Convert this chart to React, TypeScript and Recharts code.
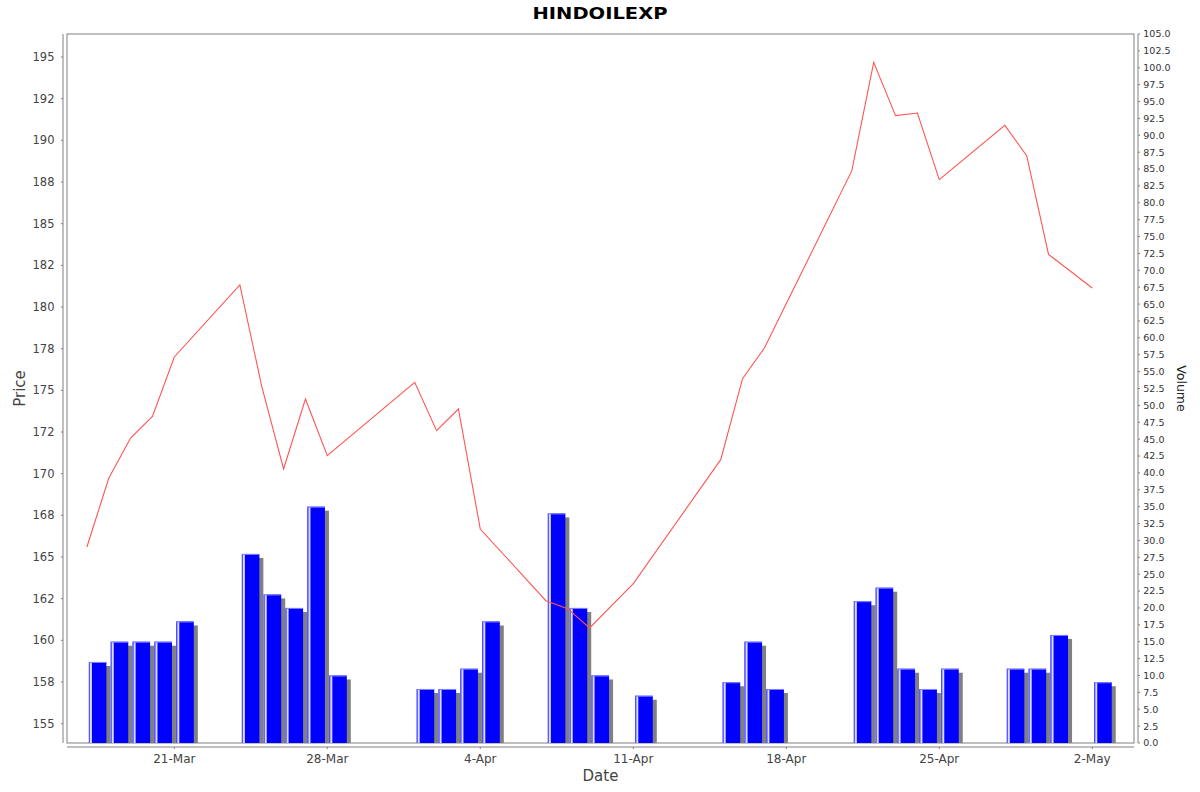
import React from 'react';
import { ComposedChart, Bar, Line, XAxis, YAxis, ReferenceArea } from 'recharts';

// ---- data ----
const title = 'HINDOILEXP';
const dates = [
  '2025-03-17', '2025-03-18', '2025-03-19', '2025-03-20', '2025-03-21',
  '2025-03-24', '2025-03-25', '2025-03-26', '2025-03-27', '2025-03-28',
  '2025-04-01', '2025-04-02', '2025-04-03', '2025-04-04',
  '2025-04-07', '2025-04-08', '2025-04-09', '2025-04-11',
  '2025-04-15', '2025-04-16', '2025-04-17',
  '2025-04-21', '2025-04-22', '2025-04-23', '2025-04-24', '2025-04-25',
  '2025-04-28', '2025-04-29', '2025-04-30', '2025-05-02',
];
const prices = [
  165.6, 169.72, 172.14, 173.44, 177.0,
  181.32, 175.24, 170.28, 174.48, 171.08,
  175.48, 172.58, 173.88, 166.68,
  162.38, 161.9, 160.74, 163.4,
  170.84, 175.7, 177.54,
  188.18, 194.68, 191.48, 191.64, 187.64,
  190.9, 189.08, 183.16, 181.14,
];
const volumes = [
  12, 15, 15, 15, 18,
  28, 22, 20, 35, 10,
  8, 8, 11, 18,
  34, 20, 10, 7,
  9, 15, 8,
  21, 23, 11, 8, 11,
  11, 11, 16, 9,
];
const dateTicks = ['2025-03-21', '2025-03-28', '2025-04-04', '2025-04-11', '2025-04-18', '2025-04-25', '2025-05-02'];
const dateTickLabels = ['21-Mar', '28-Mar', '4-Apr', '11-Apr', '18-Apr', '25-Apr', '2-May'];
const priceTicks = [155, 157.5, 160, 162.5, 165, 167.5, 170, 172.5, 175, 177.5, 180, 182.5, 185, 187.5, 190, 192.5, 195];
const priceTickLabels = ['155', '158', '160', '162', '165', '168', '170', '172', '175', '178', '180', '182', '185', '188', '190', '192', '195'];
const volumeTicks = [
  0, 2.5, 5, 7.5, 10, 12.5, 15, 17.5, 20, 22.5, 25, 27.5, 30, 32.5, 35, 37.5, 40, 42.5, 45, 47.5,
  50, 52.5, 55, 57.5, 60, 62.5, 65, 67.5, 70, 72.5, 75, 77.5, 80, 82.5, 85, 87.5, 90, 92.5, 95, 97.5,
  100, 102.5, 105,
];
const PRICE_DOMAIN = [153.84, 196.38];
const VOLUME_DOMAIN = [0, 105];

// ---- helpers ----
const DAY_MS = 86400000;
const dayNum = (s: string) =>
  Date.UTC(+s.slice(0, 4), +s.slice(5, 7) - 1, +s.slice(8, 10)) / DAY_MS;

const data = dates.map((s, i) => ({
  d: dayNum(s),
  db: dayNum(s) + 0.5,
  price: prices[i],
  volume: volumes[i],
}));
const xTicks = dateTicks.map(dayNum);
const X_DOMAIN = [dayNum(dates[0]) - 0.91, dayNum(dates[dates.length - 1]) + 1.91];

// ---- layout ----
const W = 1200;
const H = 792;
const TOP = 34;
const X_AXIS_H = 49;
const PLOT_BOTTOM = H - X_AXIS_H;
const FONT = '"DejaVu Sans", sans-serif';
const AXIS_GRAY = '#808080';

const LeftTick = (props: any) => {
  const { x, y, payload } = props;
  const idx = priceTicks.indexOf(payload.value);
  return (
    <g>
      <line x1={x - 4} x2={x - 6} y1={y} y2={y} stroke={AXIS_GRAY} />
      <text x={x - 12.5} y={y} dy="0.36em" textAnchor="end" fontSize={11.5} fontFamily={FONT} fill="#444">
        {idx >= 0 ? priceTickLabels[idx] : ''}
      </text>
    </g>
  );
};

const RightTick = (props: any) => {
  const { x, y, payload } = props;
  return (
    <g>
      <line x1={x + 4} x2={x + 6} y1={y} y2={y} stroke={AXIS_GRAY} />
      <text x={x + 9.3} y={y} dy="0.36em" textAnchor="start" fontSize={9.5} fontFamily={FONT} fill="#333">
        {Number(payload.value).toFixed(1)}
      </text>
    </g>
  );
};

const BottomTick = (props: any) => {
  const { x, payload } = props;
  const y = PLOT_BOTTOM;
  const idx = xTicks.indexOf(payload.value);
  return (
    <g>
      <line x1={x} x2={x} y1={y + 4} y2={y + 6} stroke={AXIS_GRAY} />
      <text x={x} y={y + 19.5} textAnchor="middle" fontSize={12} fontFamily={FONT} fill="#444">
        {idx >= 0 ? dateTickLabels[idx] : ''}
      </text>
    </g>
  );
};

const VolBar = (props: any) => {
  const { x, y, width, height } = props;
  if (!height || height <= 0) return <g />;
  return (
    <g>
      <rect x={x + 4} y={y + 4} width={width} height={Math.max(0, height - 4)} fill="#808080" />
      <rect x={x} y={y} width={width} height={height} fill="#0000ff" />
      <rect x={x} y={y} width={1} height={height} fill="#5050ff" />
      <rect x={x + 1} y={y} width={2} height={height} fill="#dcdcff" />
      <rect x={x} y={y} width={width} height={1} fill="#8080ff" />
    </g>
  );
};

const Frame = (props: any) => {
  const { x, y, width, height } = props;
  const cx = x + width / 2;
  const cy = y + height / 2;
  return (
    <g>
      <rect x={x} y={y} width={width} height={height} fill="none" stroke={AXIS_GRAY} strokeWidth={1} />
      <line x1={x - 4} x2={x - 4} y1={y} y2={y + height} stroke={AXIS_GRAY} />
      <line x1={x + width + 4} x2={x + width + 4} y1={y} y2={y + height} stroke={AXIS_GRAY} />
      <line x1={x} x2={x + width} y1={y + height + 4} y2={y + height + 4} stroke={AXIS_GRAY} />
      <text x={W / 2} y={18.5} textAnchor="middle" fontSize={15} fontWeight="bold" fontFamily={FONT}
        fill="#000" textLength={135} lengthAdjust="spacingAndGlyphs">
        {title}
      </text>
      <text x={x - 47} y={cy} textAnchor="middle" dy="0.36em" fontSize={15} fontFamily={FONT} fill="#444"
        transform={`rotate(-90 ${x - 47} ${cy})`}>
        Price
      </text>
      <text x={cx} y={y + height + 38} textAnchor="middle" fontSize={15} fontFamily={FONT} fill="#444">
        Date
      </text>
      <text x={x + width + 47} y={cy} textAnchor="middle" dy="0.36em" fontSize={12.5} fontFamily={FONT} fill="#222"
        transform={`rotate(90 ${x + width + 47} ${cy})`}>
        Volume
      </text>
    </g>
  );
};

export default function App() {
  return (
    <div style={{ position: 'absolute', left: 0, top: 0, width: W, height: H, background: '#fff' }}>
      <ComposedChart width={W} height={H} data={data} margin={{ top: TOP, right: 0, bottom: 0, left: 0 }}>
        <XAxis
          xAxisId="line"
          dataKey="d"
          type="number"
          domain={X_DOMAIN}
          allowDataOverflow
          ticks={xTicks}
          interval={0}
          height={X_AXIS_H}
          axisLine={false}
          tickLine={false}
          tickSize={0}
          tickMargin={0}
          tick={<BottomTick />}
        />
        <XAxis xAxisId="bar" dataKey="db" type="number" domain={X_DOMAIN} allowDataOverflow height={0} hide />
        <YAxis
          yAxisId="price"
          orientation="left"
          type="number"
          domain={PRICE_DOMAIN}
          allowDataOverflow
          ticks={priceTicks}
          interval={0}
          width={67}
          axisLine={false}
          tickLine={false}
          tickSize={0}
          tickMargin={0}
          tick={<LeftTick />}
        />
        <YAxis
          yAxisId="vol"
          orientation="right"
          type="number"
          domain={VOLUME_DOMAIN}
          allowDataOverflow
          ticks={volumeTicks}
          interval={0}
          width={66}
          axisLine={false}
          tickLine={false}
          tickSize={0}
          tickMargin={0}
          tick={<RightTick />}
        />
        <ReferenceArea
          xAxisId="line"
          yAxisId="price"
          x1={X_DOMAIN[0]}
          x2={X_DOMAIN[1]}
          y1={PRICE_DOMAIN[0]}
          y2={PRICE_DOMAIN[1]}
          ifOverflow="visible"
          shape={<Frame />}
        />
        <Bar
          xAxisId="bar"
          yAxisId="vol"
          dataKey="volume"
          barSize={17.5}
          shape={<VolBar />}
          isAnimationActive={false}
        />
        <Line
          xAxisId="line"
          yAxisId="price"
          dataKey="price"
          type="linear"
          stroke="#ff5555"
          strokeWidth={1.1}
          dot={false}
          activeDot={false}
          isAnimationActive={false}
        />
      </ComposedChart>
    </div>
  );
}
